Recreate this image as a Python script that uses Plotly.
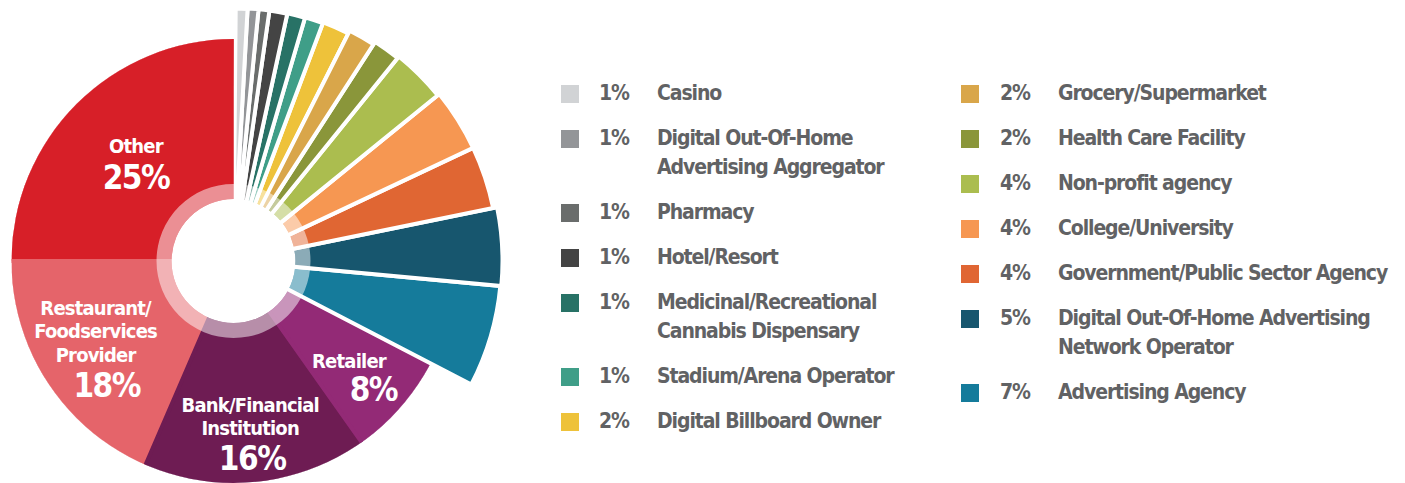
import math
import numpy as np
import plotly.graph_objects as go

# ---------------- data (counter-clockwise from the top) ----------------
categories = [
    "Other", "Restaurant/Foodservices Provider", "Bank/Financial Institution", "Retailer",
    "Advertising Agency", "Digital Out-Of-Home Advertising Network Operator",
    "Government/Public Sector Agency", "College/University", "Non-profit agency",
    "Health Care Facility", "Grocery/Supermarket", "Digital Billboard Owner",
    "Stadium/Arena Operator", "Medicinal/Recreational Cannabis Dispensary",
    "Hotel/Resort", "Pharmacy", "Digital Out-Of-Home Advertising Aggregator", "Casino",
]
# slice shares (percent)
shares = [25.14, 18.5, 16.28, 7.58, 6.14, 4.69, 3.81, 3.83, 3.33,
          1.69, 1.69, 1.72, 1.17, 1.14, 1.14, 0.69, 0.69, 0.75]
# rounded percentages printed on the chart
pct_labels = [25, 18, 16, 8, 7, 5, 4, 4, 4, 2, 2, 2, 1, 1, 1, 1, 1, 1]

legend_text = [
    "Other", "Restaurant/Foodservices Provider", "Bank/Financial Institution", "Retailer",
    "Advertising Agency", "Digital Out-Of-Home Advertising<br>Network Operator",
    "Government/Public Sector Agency", "College/University", "Non-profit agency",
    "Health Care Facility", "Grocery/Supermarket", "Digital Billboard Owner",
    "Stadium/Arena Operator", "Medicinal/Recreational<br>Cannabis Dispensary",
    "Hotel/Resort", "Pharmacy", "Digital Out-Of-Home<br>Advertising Aggregator", "Casino",
]
slice_text = ["Other", "Restaurant/<br>Foodservices<br>Provider", "Bank/Financial<br>Institution", "Retailer"]

# ---------------- styles ----------------
colors = ["#D71F28", "#E5646A", "#6E1C53", "#932A76", "#157B9B", "#17566E",
          "#E06633", "#F69752", "#ABBD4F", "#8A963A", "#D9A64A", "#EEC23A",
          "#3F9E88", "#287266", "#444444", "#6A6D6C", "#939598", "#D1D3D5"]
outer_r = [224, 224, 224, 224, 268, 269, 265, 265, 263, 261, 258, 255,
           254, 253.5, 253, 253, 253, 252.5]
# which polar panel draws each slice (panels let the long slices pass the page edge)
panel = ["polar"] * 4 + ["polar3"] * 7 + ["polar2"] * 7
N_LABELLED = 4
HOLE_R, RING_R = 62, 77
START_DEG = 89.5

W, H = 1405, 483
CX, CY = 233.5, 261.0
R_MAIN = 222.0
PANELS = {  # id: (radius px, sector)
    "polar": (R_MAIN, [0, 360]),
    "polar2": (258.0, [62.5, 90]),
    "polar3": (272.0, [-30, 64]),
    "polar4": (R_MAIN, [0, 360]),
}
FONT = "DejaVu Sans Condensed, Liberation Sans Narrow, Roboto, sans-serif"
GREY = "#616264"


def sector_bbox(sector):
    s0, s1 = sector
    arc = s1 - s0
    a0 = s0 % 360
    a1 = a0 + arc
    ax0, ay0 = math.cos(math.radians(a0)), math.sin(math.radians(a0))
    ax1, ay1 = math.cos(math.radians(a1)), math.sin(math.radians(a1))
    if (a0 <= 90 and a1 >= 90) or (a0 > 90 and a1 >= 450):
        y1 = 1
    elif ay0 <= 0 and ay1 <= 0:
        y1 = 0
    else:
        y1 = max(ay0, ay1)
    if (a0 <= 180 and a1 >= 180) or (a0 > 180 and a1 >= 540):
        x0 = -1
    elif ax0 >= 0 and ax1 >= 0:
        x0 = 0
    else:
        x0 = min(ax0, ax1)
    if (a0 <= 270 and a1 >= 270) or (a0 > 270 and a1 >= 630):
        y0 = -1
    elif ay0 >= 0 and ay1 >= 0:
        y0 = 0
    else:
        y0 = min(ay0, ay1)
    if a1 >= 360:
        x1 = 1
    elif ax0 <= 0 and ax1 <= 0:
        x1 = 0
    else:
        x1 = max(ax0, ax1)
    return x0, y0, x1, y1


def polar_layout(pid):
    R, sector = PANELS[pid]
    x0, y0, x1, y1 = sector_bbox(sector)
    left, right = CX + x0 * R, CX + x1 * R
    top, bottom = CY - y1 * R, CY - y0 * R
    return dict(
        domain=dict(x=[max(0, left / W), min(1, right / W)],
                    y=[max(0, (H - bottom) / H), min(1, (H - top) / H)]),
        sector=sector,
        radialaxis=dict(range=[0, R], visible=False),
        angularaxis=dict(visible=False, rotation=0, direction="counterclockwise"),
        bgcolor="rgba(0,0,0,0)",
    )


total = sum(shares)
widths = np.array(shares) / total * 360.0
starts = START_DEG + np.concatenate([[0.0], np.cumsum(widths)[:-1]])
mids = starts + widths / 2
line_colors = colors[:N_LABELLED] + ["white"] * (len(colors) - N_LABELLED)

fig = go.Figure()
for pid in ["polar", "polar2", "polar3"]:
    idx = [i for i, p in enumerate(panel) if p == pid]
    fig.add_trace(go.Barpolar(
        subplot=pid,
        r=[outer_r[i] for i in idx], theta=[mids[i] for i in idx], width=[widths[i] for i in idx],
        marker=dict(color=[colors[i] for i in idx],
                    line=dict(color=[line_colors[i] for i in idx], width=4)),
        hoverinfo="skip", showlegend=False))

# hole and light inner ring, drawn over every panel
fig.add_trace(go.Barpolar(subplot="polar4", r=[HOLE_R], theta=[0], width=[360],
                          marker=dict(color="white", line=dict(width=0)),
                          hoverinfo="skip", showlegend=False))
fig.add_trace(go.Barpolar(subplot="polar4", r=[RING_R - HOLE_R], base=[HOLE_R], theta=[0], width=[360],
                          marker=dict(color="rgba(255,255,255,0.5)", line=dict(width=0)),
                          hoverinfo="skip", showlegend=False))

# slice labels
name_r = [147, 157, 161, 156]
name_dt = [-3.15, -4.75, 0.0, -1.15]
pct_r = [126, 180, 202, 192]
pct_dt = [5.95, 11.9, -0.65, -2.15]


def stacked(txt, fs, ls):
    return "<br><br>".join(
        f"<span style='font-size:{fs}px;letter-spacing:{ls}px'>{ln}</span>" for ln in txt.split("<br>"))


fig.add_trace(go.Scatterpolar(
    subplot="polar4",
    r=name_r, theta=[mids[i] + name_dt[i] for i in range(N_LABELLED)],
    mode="text", text=[stacked(t, 20, -0.8) for t in slice_text],
    textposition="middle center", cliponaxis=False,
    textfont=dict(family=FONT, size=9, color="white", weight="bold"),
    hoverinfo="skip", showlegend=False))
fig.add_trace(go.Scatterpolar(
    subplot="polar4",
    r=pct_r, theta=[mids[i] + pct_dt[i] for i in range(N_LABELLED)],
    mode="text",
    text=[f"<span style='letter-spacing:-1.5px'>{pct_labels[i]}%</span>" for i in range(N_LABELLED)],
    textposition="middle center", cliponaxis=False,
    textfont=dict(family=FONT, size=33, color="white", weight="bold"),
    hoverinfo="skip", showlegend=False))

# ---------------- legend (two columns) ----------------
shapes, annotations = [], []
legend_order = list(range(len(categories) - 1, N_LABELLED - 1, -1))
cols = [(561, 599, 657), (961, 1000, 1058)]
per_col = 7
LEG_FONT = dict(family=FONT, size=21, color=GREY, weight="bold")


def tight(s):
    return f"<span style='letter-spacing:-1.1px'>{s}</span>"


for ci, (sq_x, pct_x, lab_x) in enumerate(cols):
    y = 93
    for idx in legend_order[ci * per_col:(ci + 1) * per_col]:
        shapes.append(dict(type="rect", xref="x", yref="y", x0=sq_x, x1=sq_x + 18,
                           y0=y - 8, y1=y + 10, fillcolor=colors[idx], line=dict(width=0)))
        annotations.append(dict(xref="x", yref="y", x=pct_x - 1, y=y, text=tight(f"{pct_labels[idx]}%"),
                                xanchor="left", yanchor="middle", showarrow=False, borderpad=0,
                                font=LEG_FONT))
        lines = legend_text[idx].split("<br>")
        for li, ln in enumerate(lines):
            annotations.append(dict(xref="x", yref="y", x=lab_x - 1, y=y + li * 29, text=tight(ln),
                                    xanchor="left", yanchor="middle", showarrow=False, borderpad=0,
                                    font=LEG_FONT))
        y += 45 + 29 * (len(lines) - 1)

fig.update_layout(
    width=W, height=H, margin=dict(l=0, r=0, t=0, b=0),
    paper_bgcolor="white", plot_bgcolor="rgba(0,0,0,0)",
    xaxis=dict(range=[0, W], visible=False, fixedrange=True, domain=[0, 1]),
    yaxis=dict(range=[H, 0], visible=False, fixedrange=True, domain=[0, 1]),
    polar=polar_layout("polar"), polar2=polar_layout("polar2"),
    polar3=polar_layout("polar3"), polar4=polar_layout("polar4"),
    shapes=shapes, annotations=annotations, showlegend=False,
)

fig.write_html("out.html", config={"displayModeBar": False},
               post_script="document.body.style.margin='0';document.body.style.overflow='hidden';")
